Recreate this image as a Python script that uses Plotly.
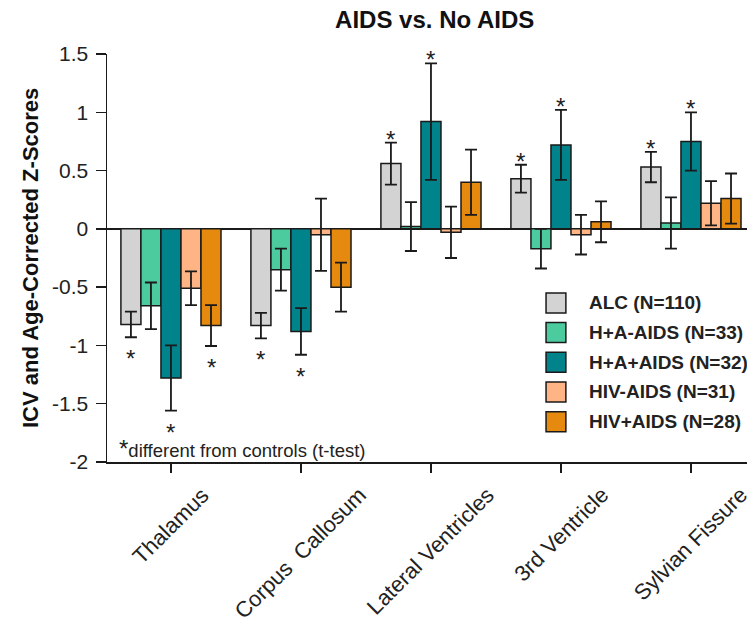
import plotly.graph_objects as go

# ---------------- data ----------------
regions = ["Thalamus", "Corpus\u00a0 Callosum", "Lateral Ventricles", "3rd Ventricle", "Sylvian Fissure"]
groups = ["ALC (N=110)", "H+A-AIDS (N=33)", "H+A+AIDS (N=32)", "HIV-AIDS (N=31)", "HIV+AIDS (N=28)"]

alc = [-0.82, -0.83, 0.56, 0.43, 0.53]
alc_err = [0.11, 0.11, 0.18, 0.12, 0.13]
alc_sig = [1, 1, 1, 1, 1]

ha_noaids = [-0.66, -0.35, 0.02, -0.17, 0.05]
ha_noaids_err = [0.20, 0.18, 0.21, 0.17, 0.22]
ha_noaids_sig = [0, 0, 0, 0, 0]

ha_aids = [-1.28, -0.88, 0.92, 0.72, 0.75]
ha_aids_err = [0.28, 0.20, 0.50, 0.30, 0.25]
ha_aids_sig = [1, 1, 1, 1, 1]

hiv_noaids = [-0.51, -0.05, -0.03, -0.05, 0.22]
hiv_noaids_err = [0.145, 0.31, 0.22, 0.17, 0.19]
hiv_noaids_sig = [0, 0, 0, 0, 0]

hiv_aids = [-0.83, -0.50, 0.40, 0.06, 0.26]
hiv_aids_err = [0.175, 0.21, 0.28, 0.175, 0.215]
hiv_aids_sig = [1, 0, 0, 0, 0]

values = [alc, ha_noaids, ha_aids, hiv_noaids, hiv_aids]
errors = [alc_err, ha_noaids_err, ha_aids_err, hiv_noaids_err, hiv_aids_err]
sigs = [alc_sig, ha_noaids_sig, ha_aids_sig, hiv_noaids_sig, hiv_aids_sig]
colors = ["#D3D3D3", "#4CCB9E", "#00838A", "#FFB485", "#E6890F"]

y_ticks = [1.5, 1, 0.5, 0, -0.5, -1, -1.5, -2]
y_ticktext = ["1.5", "1", "0.5", "0", "-0.5", "-1", "-1.5", "-2"]

FONT = "Liberation Sans, Arial, sans-serif"
BARGAP = 0.23
n = len(groups)
bar_w = (1 - BARGAP) / n
xs = list(range(len(regions)))

fig = go.Figure()
for k in range(n):
    fig.add_trace(go.Bar(
        x=xs, y=values[k], name=groups[k],
        marker=dict(color=colors[k], line=dict(color="#1a1a1a", width=1.5)),
        error_y=dict(type="data", array=errors[k], visible=True,
                     color="#1a1a1a", thickness=1.8, width=6),
        showlegend=False, hoverinfo="skip",
    ))

annotations = []
# significance stars
for k in range(n):
    for i in range(len(regions)):
        if sigs[k][i]:
            v = values[k][i]
            e = errors[k][i]
            xpos = i + (k - (n - 1) / 2) * bar_w
            if v >= 0:
                annotations.append(dict(x=xpos, y=v + e, xref="x", yref="y", text="*",
                                        showarrow=False, yanchor="bottom", yshift=-12,
                                        font=dict(family=FONT, size=24, color="#222")))
            else:
                annotations.append(dict(x=xpos, y=v - e, xref="x", yref="y", text="*",
                                        showarrow=False, yanchor="top", yshift=-6,
                                        font=dict(family=FONT, size=24, color="#222")))

# category labels (centred under each tick, rotated)
for i, name in enumerate(regions):
    annotations.append(dict(x=i, y=-0.046, xref="x", yref="paper", text=name,
                            textangle=-45, showarrow=False, xanchor="center", yanchor="top",
                            borderpad=0,
                            font=dict(family=FONT, size=22, color="#222")))

# manual legend
leg_x0 = 0.686
leg_x1 = 0.717
leg_text_x = 0.750
leg_top = 0.390
leg_step = 0.0728
box_h = 0.049
shapes = []
for k in range(n):
    yc = leg_top - k * leg_step
    shapes.append(dict(type="rect", xref="paper", yref="paper",
                       x0=leg_x0, x1=leg_x1, y0=yc - box_h / 2, y1=yc + box_h / 2,
                       fillcolor=colors[k], line=dict(color="#1a1a1a", width=1.5)))
    annotations.append(dict(x=leg_text_x, y=yc, xref="paper", yref="paper",
                            text="<b>" + groups[k] + "</b>", showarrow=False,
                            xanchor="left", yanchor="middle",
                            font=dict(family=FONT, size=19, color="#222")))

# footnote
annotations.append(dict(x=0.016, y=0.032, xref="paper", yref="paper",
                        text='<span style="font-size:24px">*</span>different from controls (t-test)',
                        showarrow=False, xanchor="left", yanchor="middle",
                        font=dict(family=FONT, size=18.5, color="#222")))

# y-axis title
annotations.append(dict(x=0, y=0.5, xref="paper", yref="paper", xshift=-77,
                        text="<b>ICV and Age-Corrected Z-Scores</b>", textangle=-90,
                        showarrow=False, xanchor="center", yanchor="middle",
                        font=dict(family=FONT, size=22, color="#111")))

fig.update_layout(
    width=747, height=621,
    margin=dict(l=107, r=0, t=54, b=159),
    paper_bgcolor="white", plot_bgcolor="white",
    barmode="group", bargap=BARGAP, bargroupgap=0,
    hovermode=False,
    title=dict(text="<b>AIDS vs. No AIDS</b>", x=0.512, xref="paper", xanchor="center",
               y=1 - 20 / 621, yref="container", yanchor="middle",
               font=dict(family=FONT, size=24, color="#111")),
    xaxis=dict(range=[-0.492, 4.431], tickmode="array", tickvals=xs, showticklabels=False,
               ticks="outside", ticklen=9, tickwidth=1.5, tickcolor="#1a1a1a",
               showline=True, linecolor="#1a1a1a", linewidth=1.5, showgrid=False,
               zeroline=False),
    yaxis=dict(range=[-2, 1.5], tickmode="array", tickvals=y_ticks, ticktext=y_ticktext,
               ticks="outside", ticklen=10, tickwidth=1.5, tickcolor="#1a1a1a",
               ticklabelstandoff=3,
               showline=True, linecolor="#1a1a1a", linewidth=1.5, showgrid=False,
               zeroline=True, zerolinecolor="#1a1a1a", zerolinewidth=1.5,
               tickfont=dict(family=FONT, size=21, color="#222")),
    shapes=shapes,
    annotations=annotations,
)

# remove the default 8px page margin so the figure fills the window exactly
fig.write_html("out.html",
               config={"displayModeBar": False, "staticPlot": True},
               post_script="document.body.style.margin='0';document.body.style.overflow='hidden';")
